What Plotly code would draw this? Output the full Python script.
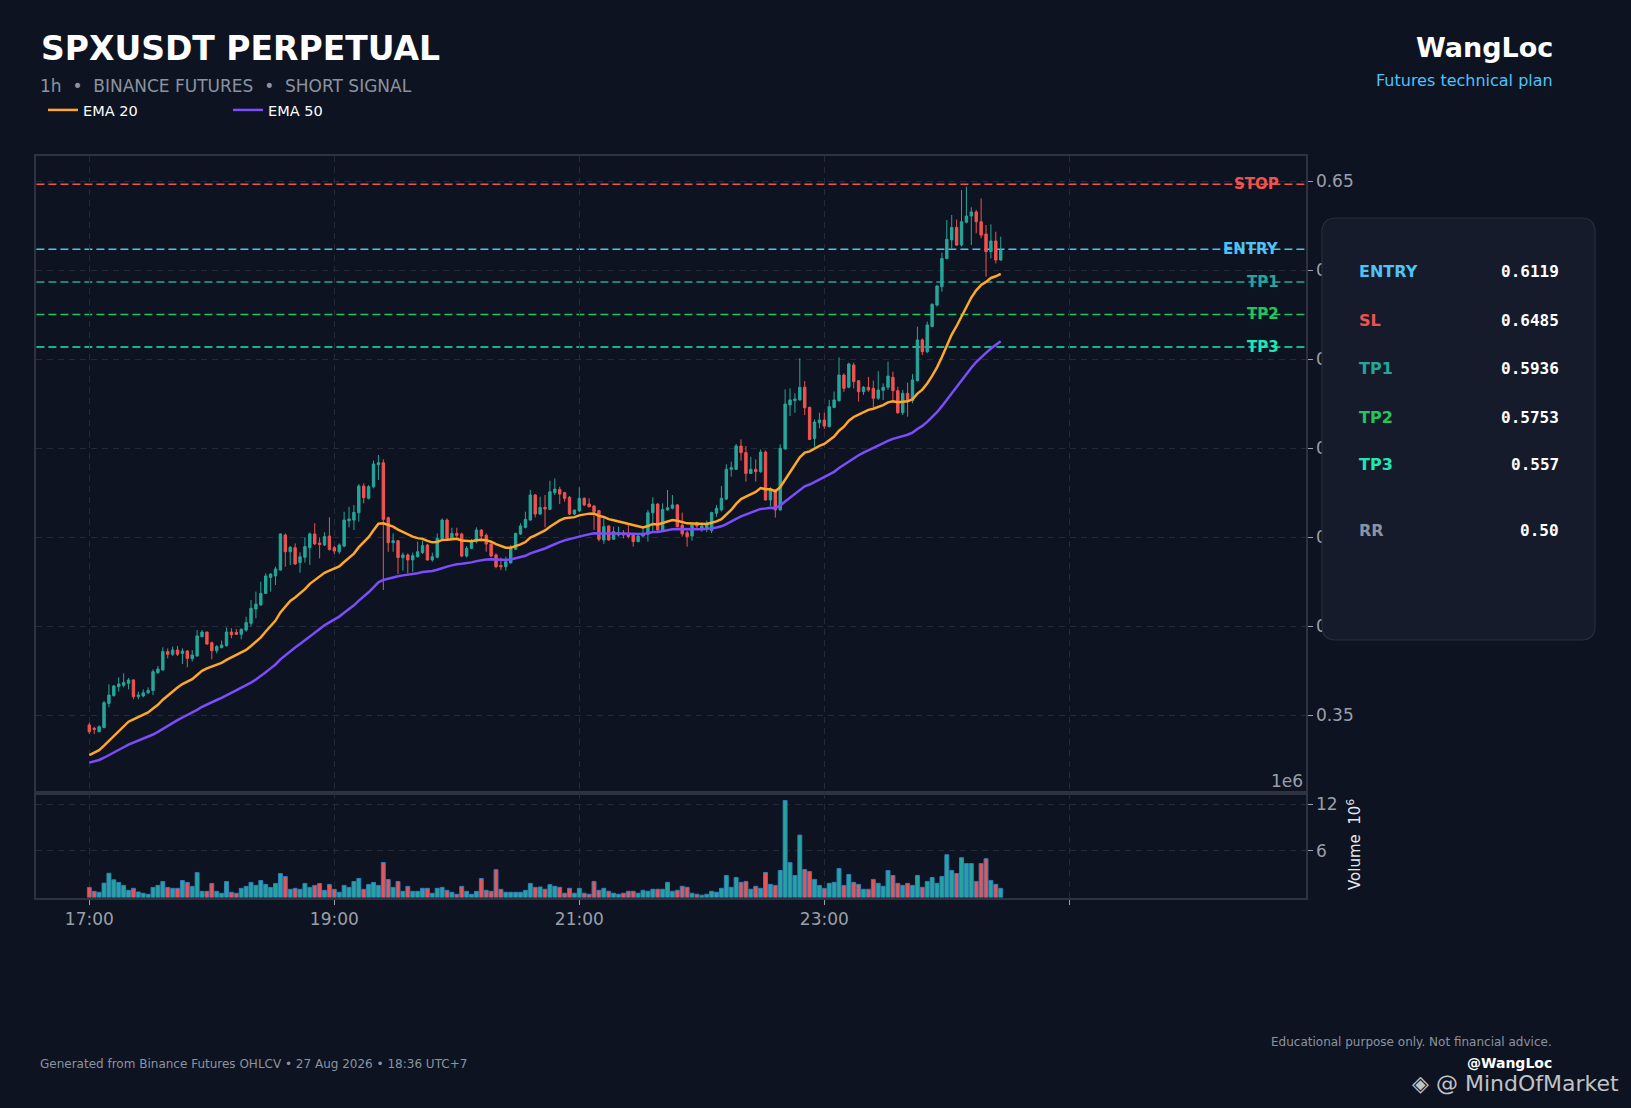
import pandas as pd
import plotly.graph_objects as go

W, H = 1631, 1108

BG = "#0d1320"
GRID = "#232a38"
AXIS = "#2d3340"
MUTED = "#9aa0aa"
GREEN = "#26a69a"
RED = "#ef5350"

# hourly candles, x is the bar index; labels as printed on the axis
tick_pos = [0, 50, 100, 150, 200]
tick_labels = ["17:00", "19:00", "21:00", "23:00", " "]
price_ticks = [0.35, 0.40, 0.45, 0.50, 0.55, 0.60, 0.65]
vol_ticks = [6, 12]

opens = [
    0.3447, 0.3428, 0.3409, 0.3432, 0.3568, 0.3612, 0.3662, 0.3670, 0.3681, 0.3700,
    0.3606, 0.3610, 0.3628, 0.3640, 0.3741, 0.3756, 0.3859, 0.3844, 0.3868, 0.3849,
    0.3862, 0.3819, 0.3834, 0.3943, 0.3969, 0.3909, 0.3864, 0.3881, 0.3892, 0.3969,
    0.3967, 0.3956, 0.3980, 0.4018, 0.4098, 0.4121, 0.4186, 0.4276, 0.4284, 0.4317,
    0.4514, 0.4420, 0.4443, 0.4359, 0.4389, 0.4443, 0.4520, 0.4469, 0.4458, 0.4508,
    0.4443, 0.4420, 0.4452, 0.4594, 0.4598, 0.4639, 0.4789, 0.4720, 0.4785, 0.4909,
    0.4920, 0.4611, 0.4471, 0.4482, 0.4387, 0.4402, 0.4374, 0.4392, 0.4415, 0.4458,
    0.4374, 0.4389, 0.4495, 0.4598, 0.4495, 0.4523, 0.4520, 0.4396, 0.4439, 0.4477,
    0.4542, 0.4512, 0.4463, 0.4402, 0.4342, 0.4336, 0.4357, 0.4434, 0.4520, 0.4557,
    0.4598, 0.4739, 0.4632, 0.4669, 0.4658, 0.4752, 0.4770, 0.4752, 0.4726, 0.4632,
    0.4649, 0.4720, 0.4688, 0.4677, 0.4651, 0.4486, 0.4565, 0.4490, 0.4514, 0.4527,
    0.4523, 0.4514, 0.4477, 0.4508, 0.4518, 0.4639, 0.4688, 0.4542, 0.4655, 0.4664,
    0.4683, 0.4570, 0.4527, 0.4508, 0.4583, 0.4545, 0.4547, 0.4540, 0.4636, 0.4655,
    0.4716, 0.4883, 0.4883, 0.5014, 0.4977, 0.4860, 0.4883, 0.4870, 0.4980, 0.4711,
    0.4767, 0.4655, 0.4997, 0.5245, 0.5269, 0.5273, 0.5344, 0.5231, 0.5056, 0.5145,
    0.5160, 0.5123, 0.5231, 0.5269, 0.5413, 0.5344, 0.5469, 0.5381, 0.5319, 0.5344,
    0.5338, 0.5282, 0.5327, 0.5344, 0.5400, 0.5325, 0.5201, 0.5310, 0.5269, 0.5381,
    0.5610, 0.5544, 0.5685, 0.5806, 0.5909, 0.6068, 0.6172, 0.6242, 0.6143, 0.6271,
    0.6306, 0.6329, 0.6274, 0.6205, 0.6106, 0.6166, 0.6059,
]
highs = [
    0.3460, 0.3437, 0.3445, 0.3582, 0.3675, 0.3671, 0.3715, 0.3737, 0.3711, 0.3703,
    0.3634, 0.3647, 0.3658, 0.3759, 0.3778, 0.3883, 0.3877, 0.3887, 0.3891, 0.3877,
    0.3868, 0.3868, 0.3980, 0.3980, 0.3971, 0.3915, 0.3896, 0.3921, 0.3995, 0.3990,
    0.3986, 0.3990, 0.4055, 0.4149, 0.4196, 0.4252, 0.4299, 0.4299, 0.4336, 0.4523,
    0.4523, 0.4452, 0.4467, 0.4417, 0.4499, 0.4529, 0.4580, 0.4501, 0.4529, 0.4613,
    0.4452, 0.4467, 0.4645, 0.4673, 0.4683, 0.4800, 0.4804, 0.4795, 0.4932, 0.4963,
    0.4939, 0.4617, 0.4523, 0.4486, 0.4415, 0.4411, 0.4415, 0.4477, 0.4482, 0.4464,
    0.4415, 0.4523, 0.4607, 0.4607, 0.4555, 0.4555, 0.4527, 0.4452, 0.4492, 0.4557,
    0.4546, 0.4523, 0.4471, 0.4411, 0.4387, 0.4392, 0.4458, 0.4527, 0.4580, 0.4645,
    0.4767, 0.4744, 0.4729, 0.4739, 0.4819, 0.4832, 0.4785, 0.4757, 0.4733, 0.4658,
    0.4782, 0.4726, 0.4720, 0.4683, 0.4655, 0.4608, 0.4569, 0.4561, 0.4561, 0.4542,
    0.4570, 0.4523, 0.4514, 0.4561, 0.4655, 0.4726, 0.4692, 0.4692, 0.4767, 0.4739,
    0.4688, 0.4640, 0.4538, 0.4580, 0.4589, 0.4583, 0.4595, 0.4645, 0.4683, 0.4789,
    0.4911, 0.4926, 0.5025, 0.5051, 0.5014, 0.4954, 0.4939, 0.4995, 0.4988, 0.4782,
    0.4770, 0.5023, 0.5332, 0.5338, 0.5310, 0.5507, 0.5379, 0.5235, 0.5164, 0.5201,
    0.5201, 0.5273, 0.5320, 0.5512, 0.5422, 0.5482, 0.5482, 0.5385, 0.5351, 0.5403,
    0.5381, 0.5435, 0.5366, 0.5488, 0.5432, 0.5347, 0.5329, 0.5370, 0.5418, 0.5685,
    0.5619, 0.5713, 0.5816, 0.5918, 0.6100, 0.6284, 0.6312, 0.6286, 0.6452, 0.6471,
    0.6355, 0.6340, 0.6405, 0.6256, 0.6259, 0.6218, 0.6190,
]
lows = [
    0.3396, 0.3396, 0.3406, 0.3428, 0.3546, 0.3606, 0.3634, 0.3658, 0.3647, 0.3591,
    0.3591, 0.3602, 0.3621, 0.3615, 0.3733, 0.3752, 0.3821, 0.3834, 0.3834, 0.3789,
    0.3771, 0.3803, 0.3831, 0.3939, 0.3896, 0.3816, 0.3849, 0.3877, 0.3887, 0.3934,
    0.3952, 0.3928, 0.3971, 0.3999, 0.4046, 0.4117, 0.4183, 0.4196, 0.4233, 0.4314,
    0.4336, 0.4346, 0.4346, 0.4302, 0.4359, 0.4346, 0.4458, 0.4383, 0.4452, 0.4426,
    0.4407, 0.4407, 0.4445, 0.4557, 0.4542, 0.4589, 0.4692, 0.4714, 0.4776, 0.4823,
    0.4205, 0.4420, 0.4420, 0.4295, 0.4314, 0.4299, 0.4308, 0.4389, 0.4407, 0.4370,
    0.4364, 0.4383, 0.4490, 0.4486, 0.4492, 0.4501, 0.4389, 0.4387, 0.4434, 0.4467,
    0.4477, 0.4420, 0.4389, 0.4327, 0.4317, 0.4314, 0.4355, 0.4430, 0.4514, 0.4552,
    0.4594, 0.4613, 0.4626, 0.4557, 0.4654, 0.4739, 0.4688, 0.4701, 0.4626, 0.4626,
    0.4645, 0.4677, 0.4669, 0.4542, 0.4478, 0.4464, 0.4482, 0.4490, 0.4505, 0.4495,
    0.4495, 0.4449, 0.4473, 0.4505, 0.4477, 0.4527, 0.4533, 0.4533, 0.4651, 0.4658,
    0.4557, 0.4505, 0.4449, 0.4482, 0.4552, 0.4533, 0.4530, 0.4525, 0.4617, 0.4646,
    0.4711, 0.4842, 0.4879, 0.4932, 0.4814, 0.4857, 0.4814, 0.4864, 0.4707, 0.4677,
    0.4612, 0.4651, 0.4995, 0.5183, 0.5201, 0.5269, 0.5188, 0.5048, 0.5010, 0.5113,
    0.5110, 0.5119, 0.5226, 0.5263, 0.5319, 0.5338, 0.5338, 0.5263, 0.5301, 0.5319,
    0.5231, 0.5273, 0.5273, 0.5329, 0.5273, 0.5194, 0.5188, 0.5179, 0.5254, 0.5376,
    0.5525, 0.5535, 0.5681, 0.5797, 0.5881, 0.6063, 0.6124, 0.6138, 0.6134, 0.6265,
    0.6143, 0.6209, 0.6181, 0.5965, 0.6068, 0.6040, 0.6055,
]
closes = [
    0.3409, 0.3422, 0.3437, 0.3572, 0.3615, 0.3666, 0.3677, 0.3685, 0.3700, 0.3606,
    0.3615, 0.3628, 0.3640, 0.3746, 0.3761, 0.3859, 0.3844, 0.3868, 0.3844, 0.3862,
    0.3821, 0.3840, 0.3947, 0.3969, 0.3902, 0.3864, 0.3887, 0.3896, 0.3969, 0.3954,
    0.3956, 0.3984, 0.4022, 0.4102, 0.4126, 0.4186, 0.4284, 0.4295, 0.4323, 0.4520,
    0.4420, 0.4445, 0.4351, 0.4392, 0.4449, 0.4520, 0.4464, 0.4460, 0.4505, 0.4433,
    0.4424, 0.4458, 0.4598, 0.4604, 0.4641, 0.4789, 0.4724, 0.4785, 0.4913, 0.4920,
    0.4602, 0.4471, 0.4482, 0.4387, 0.4402, 0.4374, 0.4398, 0.4420, 0.4454, 0.4374,
    0.4392, 0.4495, 0.4598, 0.4495, 0.4523, 0.4512, 0.4396, 0.4439, 0.4477, 0.4542,
    0.4508, 0.4463, 0.4396, 0.4336, 0.4336, 0.4364, 0.4439, 0.4523, 0.4565, 0.4602,
    0.4739, 0.4632, 0.4669, 0.4660, 0.4757, 0.4772, 0.4744, 0.4720, 0.4632, 0.4654,
    0.4720, 0.4683, 0.4673, 0.4645, 0.4490, 0.4561, 0.4486, 0.4533, 0.4527, 0.4514,
    0.4505, 0.4477, 0.4508, 0.4518, 0.4639, 0.4688, 0.4542, 0.4658, 0.4667, 0.4683,
    0.4561, 0.4520, 0.4505, 0.4570, 0.4565, 0.4565, 0.4580, 0.4640, 0.4664, 0.4720,
    0.4883, 0.4892, 0.5014, 0.4977, 0.4860, 0.4883, 0.4870, 0.4980, 0.4711, 0.4767,
    0.4655, 0.5001, 0.5250, 0.5273, 0.5278, 0.5344, 0.5229, 0.5051, 0.5149, 0.5160,
    0.5126, 0.5235, 0.5273, 0.5413, 0.5338, 0.5475, 0.5376, 0.5319, 0.5344, 0.5329,
    0.5282, 0.5329, 0.5344, 0.5407, 0.5325, 0.5201, 0.5310, 0.5273, 0.5385, 0.5610,
    0.5544, 0.5694, 0.5810, 0.5913, 0.6068, 0.6175, 0.6242, 0.6143, 0.6274, 0.6306,
    0.6329, 0.6274, 0.6199, 0.6106, 0.6166, 0.6059, 0.6115,
]
# volume in millions
volumes = [
    1.30, 0.79, 0.67, 1.85, 3.12, 2.27, 1.94, 1.56, 0.92, 1.18,
    0.71, 0.54, 0.41, 1.30, 1.56, 2.06, 1.30, 1.18, 1.18, 2.19,
    1.94, 1.43, 3.20, 0.79, 0.79, 1.81, 0.79, 0.54, 2.06, 0.67,
    0.54, 1.18, 1.43, 1.94, 1.56, 2.19, 1.68, 1.30, 1.81, 3.08,
    2.69, 1.05, 1.18, 1.05, 1.81, 1.30, 1.56, 1.81, 0.92, 1.68,
    1.05, 0.67, 1.56, 1.30, 2.06, 2.44, 1.05, 1.68, 1.94, 1.56,
    4.51, 2.31, 1.30, 2.06, 0.79, 1.43, 0.79, 0.79, 1.18, 1.18,
    0.54, 1.18, 1.30, 0.92, 0.67, 0.41, 1.43, 0.79, 0.41, 0.79,
    2.44, 0.92, 0.79, 3.58, 1.05, 0.67, 0.67, 0.67, 0.67, 0.92,
    1.81, 1.30, 1.35, 1.06, 1.65, 1.44, 1.31, 0.55, 1.18, 0.55,
    1.18, 0.55, 0.42, 2.07, 0.93, 1.18, 0.80, 0.55, 0.42, 0.55,
    0.80, 0.80, 0.55, 0.93, 0.80, 1.06, 1.06, 1.06, 1.95, 0.80,
    0.93, 1.44, 1.31, 0.55, 0.42, 0.30, 0.42, 0.80, 0.68, 1.18,
    2.83, 1.31, 2.58, 1.95, 2.07, 1.06, 1.44, 1.18, 3.21, 1.69,
    1.56, 3.47, 12.47, 4.48, 2.83, 8.03, 3.59, 3.34, 2.33, 1.56,
    1.18, 1.82, 1.95, 3.72, 1.56, 2.96, 1.95, 1.69, 1.06, 1.06,
    2.33, 1.82, 1.44, 3.47, 2.83, 1.82, 1.56, 1.82, 1.56, 2.83,
    1.31, 2.07, 2.58, 1.82, 2.71, 5.50, 3.47, 3.09, 5.12, 4.36,
    4.36, 2.07, 4.36, 4.99, 2.20, 1.69, 1.18,
]

# EMA values just before the first visible bar
ema20_seed = 0.3264
ema50_seed = 0.3228

level_names = ["STOP", "ENTRY", "TP1", "TP2", "TP3"]
level_values = [0.6485, 0.6119, 0.5936, 0.5753, 0.557]
level_colors = [RED, "#4fc3f7", GREEN, "#22c55e", "#1de9b6"]

panel_labels = ["ENTRY", "SL", "TP1", "TP2", "TP3", "RR"]
panel_values = ["0.6119", "0.6485", "0.5936", "0.5753", "0.557", "0.50"]
panel_colors = ["#4fc3f7", RED, GREEN, "#22c55e", "#1de9b6", "#8b93a1"]
panel_rows_px = [271, 320, 368, 417, 465, 530]


def px(x):
    return x / W


def py(y):
    return 1 - y / H


idx = list(range(len(closes)))
ema20 = pd.Series([ema20_seed] + closes).ewm(span=20, adjust=False).mean().iloc[1:]
ema50 = pd.Series([ema50_seed] + closes).ewm(span=50, adjust=False).mean().iloc[1:]
vol_colors = [GREEN if c >= o else RED for o, c in zip(opens, closes)]

fig = go.Figure()

fig.add_trace(go.Candlestick(
    x=idx, open=opens, high=highs, low=lows, close=closes,
    increasing=dict(line=dict(color=GREEN, width=1), fillcolor=GREEN),
    decreasing=dict(line=dict(color=RED, width=1), fillcolor=RED),
    whiskerwidth=0, showlegend=False, hoverinfo="skip",
    xaxis="x", yaxis="y",
))
fig.add_trace(go.Scatter(
    x=idx, y=ema20, mode="lines", name="EMA 20",
    line=dict(color="#ffa726", width=2.5), xaxis="x", yaxis="y",
))
fig.add_trace(go.Scatter(
    x=idx, y=ema50, mode="lines", name="EMA 50",
    line=dict(color="#7c4dff", width=2.5), xaxis="x", yaxis="y",
))
fig.add_trace(go.Bar(
    x=idx, y=volumes, marker=dict(color=vol_colors, line=dict(color="#2f7fc1", width=1)),
    width=0.8, showlegend=False, xaxis="x2", yaxis="y2",
))

x_dom = [px(36.4), px(1305.5)]
x_range = [-10.8, 248.2]

shapes = []
annotations = []

for name, val, col in zip(level_names, level_values, level_colors):
    shapes.append(dict(
        type="line", xref="paper", yref="y", x0=x_dom[0], x1=x_dom[1], y0=val, y1=val,
        line=dict(color=col, width=1.5, dash="8px,4px"), layer="below",
    ))
    annotations.append(dict(
        xref="paper", yref="y", x=px(1281), y=val, text="<b>%s</b>" % name,
        showarrow=False, xanchor="right", yanchor="middle",
        font=dict(family="DejaVu Sans", size=15, color=col),
    ))

# info panel with rounded corners
bx0, bx1 = px(1322), px(1595)
by1, by0 = py(218), py(640)
rx, ry = 14 / W, 14 / H
box_path = (
    f"M {bx0 + rx},{by1} L {bx1 - rx},{by1} Q {bx1},{by1} {bx1},{by1 - ry} "
    f"L {bx1},{by0 + ry} Q {bx1},{by0} {bx1 - rx},{by0} L {bx0 + rx},{by0} "
    f"Q {bx0},{by0} {bx0},{by0 + ry} L {bx0},{by1 - ry} Q {bx0},{by1} {bx0 + rx},{by1} Z"
)
shapes.append(dict(
    type="path", xref="paper", yref="paper", path=box_path,
    fillcolor="#151b2a", line=dict(color="#272e3d", width=1.2), layer="above",
))

for lab, val, col, ypx in zip(panel_labels, panel_values, panel_colors, panel_rows_px):
    annotations.append(dict(
        xref="paper", yref="paper", x=px(1357), y=py(ypx), text="<b>%s</b>" % lab,
        showarrow=False, xanchor="left", yanchor="middle",
        font=dict(family="DejaVu Sans", size=16, color=col),
    ))
    annotations.append(dict(
        xref="paper", yref="paper", x=px(1561), y=py(ypx), text="<b>%s</b>" % val,
        showarrow=False, xanchor="right", yanchor="middle",
        font=dict(family="DejaVu Sans Mono", size=16, color="#ffffff"),
    ))

texts = [
    (39, 49, "<b>SPXUSDT PERPETUAL</b>", 33, "#ffffff", "left"),
    (38, 86, "1h\u00a0\u00a0•\u00a0\u00a0BINANCE FUTURES\u00a0\u00a0•\u00a0\u00a0SHORT SIGNAL", 17, "#8b93a1", "left"),
    (1555, 47, "<b>WangLoc</b>", 27, "#ffffff", "right"),
    (1555, 80, "Futures technical plan", 16, "#4fc3f7", "right"),
    (38, 1064, "Generated from Binance Futures OHLCV • 27 Aug 2026 • 18:36 UTC+7", 12, "#8b93a1", "left"),
    (1554, 1042, "Educational purpose only. Not financial advice.", 12, "#8b93a1", "right"),
    (1554, 1063, "<b>@WangLoc</b>", 14, "#ffffff", "right"),
    (1305, 781, "1e6", 17, MUTED, "right"),
]
for x, y, t, s, c, anc in texts:
    annotations.append(dict(
        xref="paper", yref="paper", x=px(x), y=py(y), text=t, showarrow=False,
        xanchor=anc, yanchor="middle", font=dict(family="DejaVu Sans", size=s, color=c),
    ))

annotations.append(dict(
    xref="paper", yref="paper", x=px(1354), y=py(845), text="Volume  10<sup>6</sup>",
    showarrow=False, textangle=-90, xanchor="center", yanchor="middle",
    font=dict(family="DejaVu Sans", size=15, color="#e6e8ec"),
))
# repost watermark
annotations.append(dict(
    xref="paper", yref="paper", x=px(1621), y=py(1083), text="◈ @ MindOfMarket",
    showarrow=False, xanchor="right", yanchor="middle",
    font=dict(family="DejaVu Sans", size=22, color="rgba(225,228,232,0.85)"),
))

axis_common = dict(
    showline=True, mirror=True, linecolor=AXIS, linewidth=2,
    gridcolor=GRID, griddash="6px,5px", gridwidth=1, zeroline=False,
    tickfont=dict(family="DejaVu Sans", size=17, color=MUTED),
)

fig.update_layout(
    width=W, height=H,
    margin=dict(l=0, r=0, t=0, b=0),
    paper_bgcolor=BG, plot_bgcolor=BG,
    showlegend=True,
    legend=dict(
        orientation="h", x=px(43), y=py(110), xanchor="left", yanchor="middle",
        bgcolor="rgba(0,0,0,0)", font=dict(family="DejaVu Sans", size=14.5, color="#ffffff"),
        entrywidth=140, entrywidthmode="pixels", itemwidth=30,
    ),
    xaxis=dict(
        domain=x_dom, anchor="y", range=x_range, tickvals=tick_pos,
        showticklabels=False, ticks="", rangeslider=dict(visible=False), **axis_common,
    ),
    yaxis=dict(
        domain=[py(792.6), py(156)], anchor="x", side="right", range=[0.30669, 0.66433],
        tickvals=price_ticks, tickformat=".2f", ticks="outside", ticklen=5, tickcolor=MUTED,
        **axis_common,
    ),
    xaxis2=dict(
        domain=x_dom, anchor="y2", matches="x", range=x_range, tickvals=tick_pos,
        ticktext=tick_labels, ticks="outside", ticklen=5, tickcolor=MUTED, **axis_common,
    ),
    yaxis2=dict(
        domain=[py(897.5), py(792.6)], anchor="x2", side="right", range=[0, 13.5],
        tickvals=vol_ticks, ticks="outside", ticklen=5, tickcolor=MUTED, **axis_common,
    ),
    bargap=0.2,
    shapes=shapes,
    annotations=annotations,
    hovermode=False,
)

fig.write_html(
    "out.html",
    config={"displayModeBar": False},
    post_script="document.body.style.margin='0';",
)
